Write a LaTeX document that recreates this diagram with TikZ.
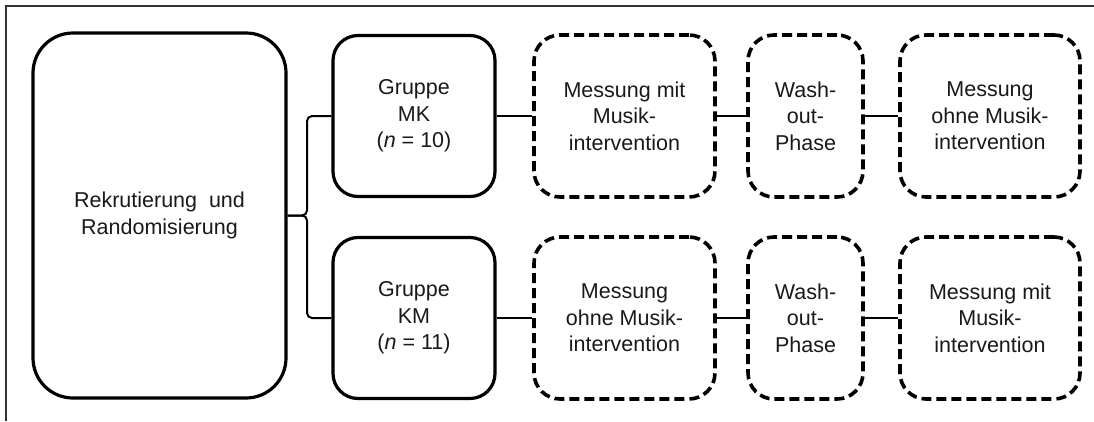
\documentclass[tikz,border=0pt]{standalone}
\usepackage{fontspec}
\setmainfont{Liberation Sans}
\begin{document}
\begin{tikzpicture}[x=1pt,y=-1pt,
  txt/.style={font=\fontsize{21.5}{26.5}\selectfont, align=center, inner sep=0pt, text=black!90},
  solidbox/.style={txt, draw, line width=3.2pt, rounded corners=25pt},
  dashbox/.style={txt, draw, line width=3.6pt, rounded corners=26pt, dash pattern=on 10pt off 5pt},
  link/.style={line width=2pt},
]
\useasboundingbox (0,0) rectangle (1094,421);
\draw[line width=1.3pt, black!80] (6,421) -- (6,6) -- (1094,6);

\node[solidbox, rounded corners=40pt, minimum width=253pt, minimum height=365pt] (big) at (159.5,215.5) {Rekrutierung~ und\\Randomisierung};

\node[solidbox, minimum width=162pt, minimum height=161pt] (g1) at (414,116) {Gruppe\\MK\\(\textit{n} = 10)};
\node[solidbox, minimum width=162pt, minimum height=161pt] (g2) at (414,318) {Gruppe\\KM\\(\textit{n} = 11)};

\node[dashbox, minimum width=181pt, minimum height=162pt] (m1) at (624.5,116) {Messung mit\\Musik-\\intervention};
\node[dashbox, minimum width=181pt, minimum height=162pt] (m2) at (624.5,318) {Messung\\ohne Musik-\\intervention};

\node[dashbox, minimum width=115pt, minimum height=162pt] (w1) at (805.5,116) {Wash-\\out-\\Phase};
\node[dashbox, minimum width=115pt, minimum height=162pt] (w2) at (805.5,318) {Wash-\\out-\\Phase};

\node[dashbox, minimum width=180pt, minimum height=162pt] (r1) at (990,116) {Messung\\ohne Musik-\\intervention};
\node[dashbox, minimum width=180pt, minimum height=162pt] (r2) at (990,318) {Messung mit\\Musik-\\intervention};

\coordinate (bx) at (307,215.5);
\draw[link, rounded corners=5pt] (big.east) -- (bx) |- (g1.west);
\draw[link, rounded corners=5pt] (big.east) -- (bx) |- (g2.west);

\draw[link] (g1.east) -- (m1.west);
\draw[link] (m1.east) -- (w1.west);
\draw[link] (w1.east) -- (r1.west);
\draw[link] (g2.east) -- (m2.west);
\draw[link] (m2.east) -- (w2.west);
\draw[link] (w2.east) -- (r2.west);
\end{tikzpicture}
\end{document}
